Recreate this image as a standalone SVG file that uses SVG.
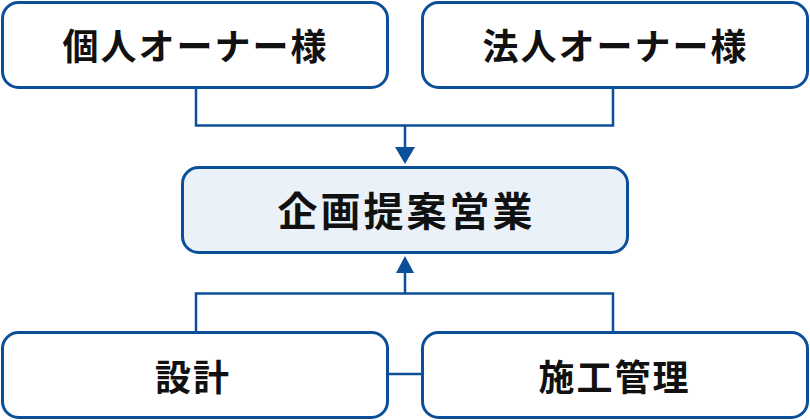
<svg xmlns="http://www.w3.org/2000/svg" width="810" height="420" viewBox="0 0 810 420">
<defs>
<style>
.box{fill:#ffffff;stroke:#0a4f98;stroke-width:3}
.main{fill:#eaf1f9;stroke:#0a4f98;stroke-width:3}
.lbl{font-family:"Noto Sans CJK JP","Noto Sans",sans-serif;font-weight:700;font-size:36px;letter-spacing:2px;fill:#111111;text-anchor:middle;dominant-baseline:central}
.big{font-size:40px;letter-spacing:3px}
.con{fill:none;stroke:#0a4f98;stroke-width:2.5}
.head{fill:#0a4f98}
</style>
</defs>
<rect width="810" height="420" fill="#ffffff"/>
<g id="connectors">
<path class="con" d="M196 88 V125.5 H613 V88"/>
<path class="con" d="M405 125.5 V148"/>
<polygon class="head" points="395,147 415,147 405,164"/>
<path class="con" d="M405 272 V293.5"/>
<path class="con" d="M196 331 V293.5 H613 V331"/>
<polygon class="head" points="396,273 414,273 405,256"/>
<path class="con" d="M388 374 H422"/>
</g>
<g id="node-kojin">
<rect class="box" x="2.5" y="2.5" width="385" height="85" rx="16"/>
<text class="lbl" x="195.5" y="44">個人オーナー様</text>
</g>
<g id="node-hojin">
<rect class="box" x="422.5" y="2.5" width="385" height="85" rx="16"/>
<text class="lbl" x="615.5" y="44">法人オーナー様</text>
</g>
<g id="node-kikaku">
<rect class="main" x="182.5" y="167.5" width="445" height="85" rx="16"/>
<text class="lbl big" x="406.5" y="209">企画提案営業</text>
</g>
<g id="node-sekkei">
<rect class="box" x="2.5" y="332.5" width="385" height="85" rx="16"/>
<text class="lbl" x="193" y="375">設計</text>
</g>
<g id="node-seko">
<rect class="box" x="422.5" y="332.5" width="385" height="85" rx="16"/>
<text class="lbl" x="614.5" y="375">施工管理</text>
</g>
</svg>
